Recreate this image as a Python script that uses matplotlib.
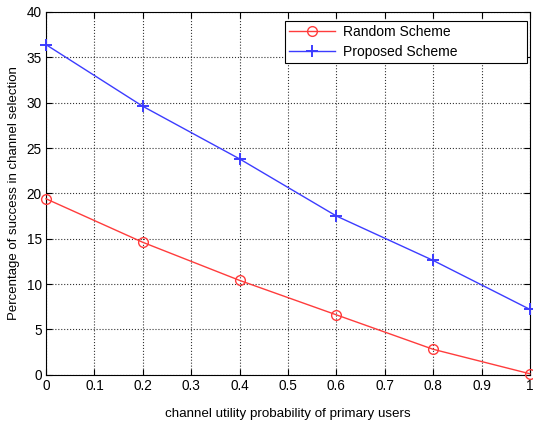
import matplotlib
matplotlib.use('Agg')
import matplotlib.pyplot as plt

# data
x = [0, 0.2, 0.4, 0.6, 0.8, 1.0]
random_scheme = [19.4, 14.6, 10.4, 6.6, 2.8, 0.1]
proposed_scheme = [36.4, 29.6, 23.8, 17.5, 12.6, 7.2]
xticks = [0, 0.1, 0.2, 0.3, 0.4, 0.5, 0.6, 0.7, 0.8, 0.9, 1]
xtick_labels = ['0', '0.1', '0.2', '0.3', '0.4', '0.5', '0.6', '0.7', '0.8', '0.9', '1']
yticks = [0, 5, 10, 15, 20, 25, 30, 35, 40]

plt.rcParams['font.family'] = ['Liberation Sans', 'DejaVu Sans']

fig = plt.figure(figsize=(5.33, 4.21), dpi=100)
ax = fig.add_axes([0.0863, 0.110, 0.908, 0.8615])

ax.plot(x, random_scheme, color='#ff3c3c', linewidth=1.0, marker='o',
        markersize=7, markerfacecolor='none', markeredgewidth=1.0,
        label='Random Scheme', clip_on=False, zorder=3)
ax.plot(x, proposed_scheme, color='#3c3cff', linewidth=1.0, marker='+',
        markersize=8, markeredgewidth=1.4,
        label='Proposed Scheme', clip_on=False, zorder=3)

ax.set_xlim(0, 1)
ax.set_ylim(0, 40)
ax.set_xticks(xticks)
ax.set_xticklabels(xtick_labels)
ax.set_yticks(yticks)
ax.tick_params(direction='in', length=4, width=0.8, labelsize=9.8, pad=3)
ax.tick_params(top=True, right=True)
ax.grid(True, linestyle=':', color='black', linewidth=0.8, alpha=0.8)
for s in ax.spines.values():
    s.set_linewidth(0.8)

ax.set_xlabel('channel utility probability of primary users', fontsize=9.6, labelpad=11)
ax.set_ylabel('Percentage of success in channel selection', fontsize=9.5, labelpad=5)

# MATLAB-style legend box: wide, with the entries packed on the left
leg = ax.legend(loc='upper left', bbox_to_anchor=(0.494, 0.975, 0.50, 0.0),
                mode='expand', fontsize=10, fancybox=False, framealpha=1,
                edgecolor='black', borderaxespad=0, handlelength=3.3,
                handletextpad=0.6, borderpad=0.3, labelspacing=0.4)
leg.get_frame().set_linewidth(0.8)

fig.savefig('out.png', dpi=100)
